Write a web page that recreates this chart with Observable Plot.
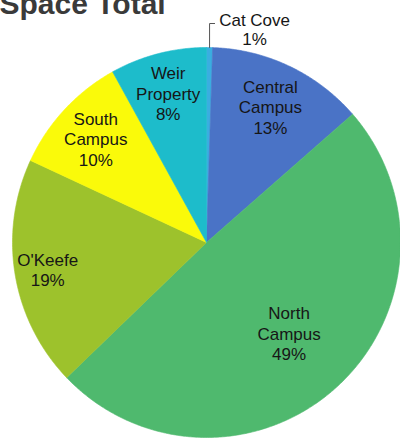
<!DOCTYPE html>
<html>
<head>
<meta charset="utf-8">
<script src="https://cdn.jsdelivr.net/npm/d3@7"></script>
<script src="https://cdn.jsdelivr.net/npm/@observablehq/plot@0.6"></script>
<style>
  html, body { margin: 0; padding: 0; background: #fff; overflow: hidden; }
  svg { display: block; }
</style>
</head>
<body>
<div id="chart"></div>
<script>
// ---- data ----
const title = "Space Total";
const names = ["Cat Cove", "Central Campus", "North Campus", "O'Keefe", "South Campus", "Weir Property"];
const labelLines = ["Cat Cove", "Central\nCampus", "North\nCampus", "O'Keefe", "South\nCampus", "Weir\nProperty"];
const shares = [0.5, 13, 49, 19, 10, 8];          // share of space (Cat Cove is a thin sliver)
const pctLabels = ["1%", "13%", "49%", "19%", "10%", "8%"];
const colors = ["#3aaee0", "#4a73c6", "#4fb96e", "#9dc22c", "#fafa0a", "#1dbccb"];

// ---- layout (not data) ----
const labelRadius = {"Central Campus": 0.77, "North Campus": 0.63, "O'Keefe": 0.83, "South Campus": 0.78, "Weir Property": 0.79};
const fontFamily = "'Liberation Sans', Arial, sans-serif";

// ---- build slice polygons from cumulative shares ----
const total = d3.sum(shares);
const slices = [];
let acc = 0;
names.forEach((n, i) => {
  const a0 = acc / total * 2 * Math.PI;
  acc += shares[i];
  const a1 = acc / total * 2 * Math.PI;
  slices.push({name: n, a0, a1, mid: (a0 + a1) / 2, text: labelLines[i] + "\n" + pctLabels[i]});
});
const pts = [];
for (const s of slices) {
  pts.push({name: s.name, x: 0, y: 0});
  const steps = Math.max(2, Math.ceil((s.a1 - s.a0) / (Math.PI / 360)));
  for (let k = 0; k <= steps; k++) {
    const a = s.a0 + (s.a1 - s.a0) * k / steps;
    pts.push({name: s.name, x: Math.sin(a), y: Math.cos(a)});
  }
  pts.push({name: s.name, x: 0, y: 0});
}
const inside = slices.filter(s => labelRadius[s.name] != null).map(s => ({
  text: s.text,
  x: labelRadius[s.name] * Math.sin(s.mid),
  y: labelRadius[s.name] * Math.cos(s.mid)
}));
const cat = slices[0];
const catEdge = {x: Math.sin(cat.mid), y: Math.cos(cat.mid)};
const leader = [
  {x: catEdge.x, y: catEdge.y},
  {x: catEdge.x, y: 1.123},
  {x: catEdge.x + 0.026, y: 1.123}
];
const catLabel = [{text: cat.text, x: leader[2].x, y: leader[2].y}];

const chart = Plot.plot({
  width: 400,
  height: 441,
  margin: 0,
  style: {fontFamily, background: "#fff"},
  x: {domain: [-1, 1], range: [12, 400], axis: null},
  y: {domain: [-1, 1], range: [437, 47], axis: null},
  color: {domain: names, range: colors},
  marks: [
    Plot.line(pts, {x: "x", y: "y", z: "name", fill: "name", stroke: "name", strokeWidth: 0.6, curve: "linear"}),
    Plot.text(inside, {x: "x", y: "y", text: "text", fontSize: 17, lineHeight: 1.2, fill: "#161616", textAnchor: "middle"}),
    Plot.line(leader, {x: "x", y: "y", stroke: "#555", strokeWidth: 1}),
    Plot.text(catLabel, {x: "x", y: "y", text: "text", dx: 40, dy: 6, fontSize: 17, lineHeight: 1.08, fill: "#161616", textAnchor: "middle"}),
    Plot.text([title], {frameAnchor: "top-left", text: d => d, dx: -1, dy: 13, lineAnchor: "bottom", textAnchor: "start", fontSize: 30, fontWeight: "bold", fill: "#3a3a3a"})
  ]
});
document.getElementById("chart").appendChild(chart);
</script>
</body>
</html>
